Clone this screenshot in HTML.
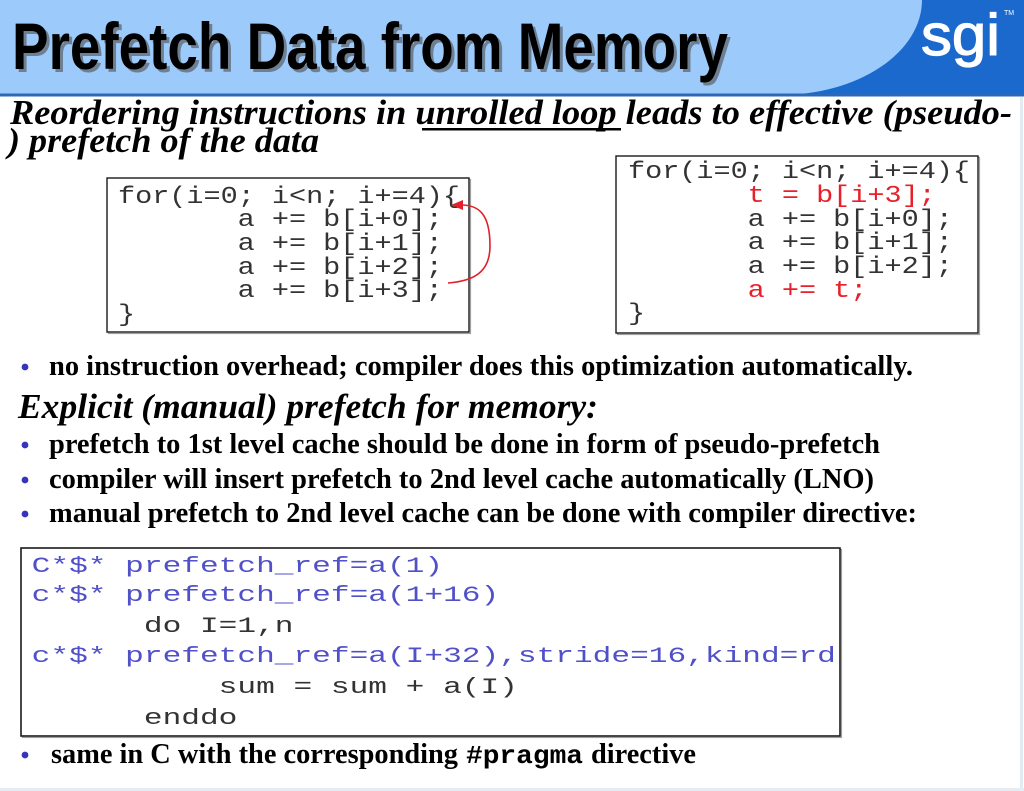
<!DOCTYPE html>
<html>
<head>
<meta charset="utf-8">
<style>
  html, body { margin:0; padding:0; background:#fff; }
  body { width:1024px; height:791px; overflow:hidden; }
  svg { display:block; }
  .mono { font-family: "Liberation Mono", "DejaVu Sans Mono", monospace; }
  .serif { font-family: "Liberation Serif", "DejaVu Serif", serif; }
  .sans { font-family: "Liberation Sans", "DejaVu Sans", sans-serif; }
</style>
</head>
<body>
<svg width="1024" height="791" viewBox="0 0 1024 791" xmlns="http://www.w3.org/2000/svg">
  <rect x="0" y="0" width="1024" height="791" fill="#ffffff"/>

  <!-- Title bar -->
  <rect x="0" y="0" width="1024" height="95" fill="#9ccafa"/>
  <path d="M922,0 A142,95 0 0 1 780,95 L1024,95 L1024,0 Z" fill="#1c69cd"/>
  <rect x="0" y="93.5" width="1024" height="3" fill="#2c68b4"/>

  <!-- Title text with shadow -->
  <text class="sans" x="15" y="72" font-size="66" font-weight="bold" fill="#6e7f92" textLength="716" lengthAdjust="spacingAndGlyphs">Prefetch Data from Memory</text>
  <text class="sans" x="12" y="69" font-size="66" font-weight="bold" fill="#000" textLength="716" lengthAdjust="spacingAndGlyphs">Prefetch Data from Memory</text>

  <!-- sgi logo -->
  <text class="sans" x="921" y="55" font-size="58" fill="#ffffff" stroke="#ffffff" stroke-width="1.2" textLength="79" lengthAdjust="spacingAndGlyphs">sgi</text>
  <text class="sans" x="1004" y="15" font-size="7" fill="#ffffff">TM</text>

  <!-- Subtitle -->
  <text class="serif" x="10" y="124" font-size="35" font-weight="bold" font-style="italic" fill="#000" textLength="1002" lengthAdjust="spacingAndGlyphs">Reordering instructions in unrolled loop leads to effective (pseudo-</text>
  <rect x="422" y="128" width="199" height="2.5" fill="#000"/>
  <text class="serif" x="8" y="152" font-size="35" font-weight="bold" font-style="italic" fill="#000" textLength="311" lengthAdjust="spacingAndGlyphs">) prefetch of the data</text>

  <!-- Code box 1 -->
  <rect x="108.5" y="179.5" width="362" height="154" fill="none" stroke="#a0a0a0" stroke-width="1.2"/>
  <rect x="107" y="178" width="362" height="154" fill="#ffffff" stroke="#1a1a1a" stroke-width="1.4"/>
  <g class="mono" font-size="24" fill="#333">
    <text x="118" y="203" textLength="342" lengthAdjust="spacingAndGlyphs">for(i=0; i&lt;n; i+=4){</text>
    <text x="237.7" y="226" textLength="205.2" lengthAdjust="spacingAndGlyphs">a += b[i+0];</text>
    <text x="237.7" y="250" textLength="205.2" lengthAdjust="spacingAndGlyphs">a += b[i+1];</text>
    <text x="237.7" y="274" textLength="205.2" lengthAdjust="spacingAndGlyphs">a += b[i+2];</text>
    <text x="237.7" y="297" textLength="205.2" lengthAdjust="spacingAndGlyphs">a += b[i+3];</text>
    <text x="118" y="321" textLength="17.1" lengthAdjust="spacingAndGlyphs">}</text>
  </g>
  <!-- red arrow -->
  <path d="M448,283 C474,281 490,272 490,246 C490,214 479,205 461,205" fill="none" stroke="#e0202a" stroke-width="1.6"/>
  <polygon points="451,205 463,200 463,210" fill="#e0202a"/>

  <!-- Code box 2 -->
  <rect x="617.5" y="157.5" width="362" height="177" fill="none" stroke="#a0a0a0" stroke-width="1.2"/>
  <rect x="616" y="156" width="362" height="177" fill="#ffffff" stroke="#1a1a1a" stroke-width="1.4"/>
  <g class="mono" font-size="24" fill="#333">
    <text x="628" y="178" textLength="342" lengthAdjust="spacingAndGlyphs">for(i=0; i&lt;n; i+=4){</text>
    <text x="747.7" y="202" textLength="188.1" lengthAdjust="spacingAndGlyphs" fill="#e8202a">t = b[i+3];</text>
    <text x="747.7" y="226" textLength="205.2" lengthAdjust="spacingAndGlyphs">a += b[i+0];</text>
    <text x="747.7" y="249" textLength="205.2" lengthAdjust="spacingAndGlyphs">a += b[i+1];</text>
    <text x="747.7" y="273" textLength="205.2" lengthAdjust="spacingAndGlyphs">a += b[i+2];</text>
    <text x="747.7" y="297" textLength="119.7" lengthAdjust="spacingAndGlyphs" fill="#e8202a">a += t;</text>
    <text x="628" y="320" textLength="17.1" lengthAdjust="spacingAndGlyphs">}</text>
  </g>

  <!-- Bullets -->
  <g fill="#3535bb">
    <circle cx="25" cy="367" r="3.4"/>
    <circle cx="25" cy="445" r="3.4"/>
    <circle cx="25" cy="480" r="3.4"/>
    <circle cx="25" cy="514" r="3.4"/>
    <circle cx="25" cy="755" r="3.4"/>
  </g>
  <g class="serif" font-size="28" font-weight="bold" fill="#000">
    <text x="49" y="375" textLength="864" lengthAdjust="spacingAndGlyphs">no instruction overhead; compiler does this optimization automatically.</text>
    <text x="49" y="453" textLength="831" lengthAdjust="spacingAndGlyphs">prefetch to 1st level cache should be done in form of pseudo-prefetch</text>
    <text x="49" y="488" textLength="825" lengthAdjust="spacingAndGlyphs">compiler will insert prefetch to 2nd level cache automatically (LNO)</text>
    <text x="49" y="522" textLength="868" lengthAdjust="spacingAndGlyphs">manual prefetch to 2nd level cache can be done with compiler directive:</text>
    <text x="51" y="763" textLength="407" lengthAdjust="spacingAndGlyphs">same in C with the corresponding</text>
    <text x="591" y="763" textLength="105" lengthAdjust="spacingAndGlyphs">directive</text>
  </g>
  <text class="mono" x="466" y="763" font-size="26" font-weight="bold" fill="#000" textLength="117" lengthAdjust="spacingAndGlyphs">#pragma</text>

  <text class="serif" x="18" y="418" font-size="35" font-weight="bold" font-style="italic" fill="#000" textLength="580" lengthAdjust="spacingAndGlyphs">Explicit (manual) prefetch for memory:</text>

  <!-- Code box 3 -->
  <rect x="22.5" y="549.5" width="819" height="188" fill="none" stroke="#a0a0a0" stroke-width="1.2"/>
  <rect x="21" y="548" width="819" height="188" fill="#ffffff" stroke="#1a1a1a" stroke-width="1.6"/>
  <g class="mono" font-size="22">
    <text x="31.7" y="572" fill="#5050c8" textLength="411.4" lengthAdjust="spacingAndGlyphs">C*$* prefetch_ref=a(1)</text>
    <text x="31.7" y="601" fill="#5050c8" textLength="467.5" lengthAdjust="spacingAndGlyphs">c*$* prefetch_ref=a(1+16)</text>
    <text x="143.9" y="632" fill="#333" textLength="149.6" lengthAdjust="spacingAndGlyphs">do I=1,n</text>
    <text x="31.7" y="662" fill="#5050c8" textLength="804.1" lengthAdjust="spacingAndGlyphs">c*$* prefetch_ref=a(I+32),stride=16,kind=rd</text>
    <text x="218.7" y="693" fill="#333" textLength="299.2" lengthAdjust="spacingAndGlyphs">sum = sum + a(I)</text>
    <text x="143.9" y="724" fill="#333" textLength="93.5" lengthAdjust="spacingAndGlyphs">enddo</text>
  </g>

  <!-- faint frame lines -->
  <rect x="1020" y="97" width="3" height="694" fill="#e2eaf2"/>
  <rect x="0" y="788" width="1024" height="3" fill="#e4ecf4"/>
</svg>
</body>
</html>
